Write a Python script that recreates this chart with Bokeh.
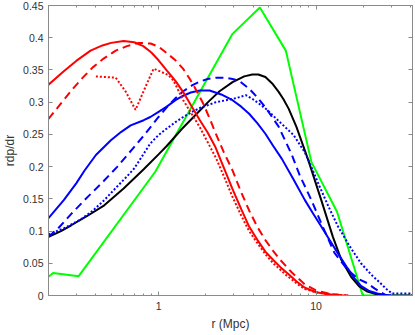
from bokeh.plotting import figure
from bokeh.models import FixedTicker, LinearAxis, LogAxis
from bokeh.embed import file_html
from bokeh.resources import INLINE

# ---- data ----
red_solid_x = [0.2, 0.25, 0.3, 0.37, 0.44, 0.5, 0.6, 0.7, 0.8, 0.9, 1.0, 1.13, 1.28, 1.43, 1.6, 1.83, 2.05, 2.3, 2.6, 2.95, 3.35, 3.76, 4.25, 4.77, 5.35, 5.94, 6.7, 7.5, 8.5, 10, 11.9, 14, 16]
red_solid_y = [0.327, 0.348, 0.364, 0.380, 0.388, 0.392, 0.395, 0.393, 0.387, 0.377, 0.365, 0.349, 0.333, 0.316, 0.296, 0.272, 0.253, 0.230, 0.198, 0.165, 0.134, 0.107, 0.086, 0.068, 0.055, 0.044, 0.033, 0.022, 0.012, 0.005, 0.002, 0.0005, 0.0]

red_dash_x = [0.2, 0.24, 0.286, 0.33, 0.382, 0.45, 0.535, 0.63, 0.75, 0.89, 1.0, 1.13, 1.28, 1.43, 1.58, 1.75, 1.92, 2.1, 2.32, 2.6, 2.95, 3.35, 3.76, 4.25, 4.77, 5.35, 5.94, 7.0, 8.5, 10, 12, 14, 16]
red_dash_y = [0.274, 0.298, 0.321, 0.338, 0.354, 0.368, 0.380, 0.387, 0.392, 0.391, 0.386, 0.376, 0.365, 0.352, 0.336, 0.317, 0.298, 0.276, 0.250, 0.222, 0.194, 0.160, 0.132, 0.106, 0.086, 0.069, 0.055, 0.036, 0.017, 0.008, 0.003, 0.001, 0.0]

red_dot_x = [0.40, 0.535, 0.62, 0.714, 0.82, 0.93, 1.04, 1.155, 1.24, 1.435, 1.63, 1.83, 2.05, 2.32, 2.6, 2.95, 3.35, 3.76, 4.25, 4.77, 5.35, 5.94, 6.5, 7.0, 7.8, 8.5, 10, 12, 14, 16]
red_dot_y = [0.340, 0.338, 0.316, 0.288, 0.322, 0.352, 0.347, 0.342, 0.334, 0.303, 0.281, 0.261, 0.238, 0.213, 0.185, 0.153, 0.124, 0.100, 0.081, 0.064, 0.050, 0.040, 0.031, 0.025, 0.016, 0.010, 0.005, 0.002, 0.001, 0.0]

blue_solid_x = [0.2, 0.25, 0.3, 0.339, 0.4, 0.498, 0.58, 0.665, 0.805, 0.887, 1.0, 1.127, 1.28, 1.435, 1.6, 1.83, 2.11, 2.5, 2.95, 3.35, 3.76, 4.25, 4.77, 5.35, 6.07, 7.2, 8.5, 9.6, 10.8, 12.2, 13.8, 15.9, 17.5, 19.3, 21.8, 24.5, 27, 30]
blue_solid_y = [0.120, 0.148, 0.174, 0.194, 0.218, 0.241, 0.254, 0.264, 0.272, 0.277, 0.285, 0.293, 0.303, 0.310, 0.315, 0.318, 0.318, 0.312, 0.303, 0.293, 0.282, 0.267, 0.251, 0.232, 0.212, 0.180, 0.148, 0.127, 0.107, 0.086, 0.065, 0.042, 0.027, 0.015, 0.007, 0.003, 0.001, 0.0]

blue_dash_x = [0.2, 0.23, 0.28, 0.355, 0.45, 0.548, 0.697, 0.805, 0.887, 1.0, 1.127, 1.28, 1.435, 1.63, 1.83, 2.05, 2.32, 2.62, 2.95, 3.25, 3.76, 4.25, 4.77, 5.79, 7.0, 7.9, 9.35, 10.8, 13.1, 15.9, 18.5, 21.2, 23.5, 25.7, 28]
blue_dash_y = [0.091, 0.104, 0.127, 0.153, 0.178, 0.200, 0.230, 0.248, 0.261, 0.277, 0.292, 0.306, 0.317, 0.326, 0.332, 0.336, 0.338, 0.338, 0.336, 0.333, 0.321, 0.307, 0.292, 0.262, 0.219, 0.186, 0.148, 0.112, 0.066, 0.040, 0.026, 0.019, 0.011, 0.005, 0.0]

blue_dot_x = [0.2, 0.25, 0.32, 0.38, 0.452, 0.55, 0.62, 0.70, 0.887, 1.0, 1.127, 1.28, 1.435, 1.63, 1.83, 2.32, 2.95, 3.3, 3.58, 3.95, 4.33, 4.9, 5.5, 6.2, 7.2, 8.5, 9.1, 10.5, 12, 13.8, 16.5, 19.3, 22.5, 25.7, 28, 30.5, 41]
blue_dot_y = [0.095, 0.104, 0.118, 0.131, 0.148, 0.170, 0.183, 0.197, 0.236, 0.249, 0.259, 0.269, 0.277, 0.285, 0.291, 0.300, 0.305, 0.308, 0.311, 0.305, 0.298, 0.288, 0.276, 0.264, 0.249, 0.222, 0.206, 0.170, 0.138, 0.107, 0.075, 0.050, 0.032, 0.019, 0.010, 0.003, 0.003]

black_x = [0.2, 0.24, 0.279, 0.35, 0.452, 0.6, 0.805, 1.0, 1.127, 1.4, 1.83, 2.1, 2.44, 2.95, 3.5, 3.94, 4.3, 4.77, 5.27, 5.79, 6.2, 6.7, 7.5, 8.93, 10.8, 12.8, 14.5, 16.7, 18.8, 21.2, 25.7, 41]
black_y = [0.091, 0.100, 0.109, 0.123, 0.140, 0.166, 0.196, 0.219, 0.232, 0.258, 0.287, 0.302, 0.317, 0.331, 0.340, 0.343, 0.343, 0.339, 0.329, 0.316, 0.305, 0.290, 0.262, 0.210, 0.148, 0.091, 0.055, 0.029, 0.014, 0.006, 0.0, 0.0]

green_x = [0.2, 0.214, 0.311, 0.953, 2.95, 4.4, 6.43, 9.35, 13.6, 19.8, 41]
green_y = [0.029, 0.035, 0.030, 0.192, 0.406, 0.447, 0.380, 0.207, 0.130, 0.0, 0.0]

x_major_ticks = [1, 10]
x_major_labels = ["1", "10"]
x_minor_ticks = [0.2, 0.3, 0.4, 0.5, 0.6, 0.7, 0.8, 0.9, 2, 3, 4, 5, 6, 7, 8, 9, 20, 30, 40]
y_ticks = [0, 0.05, 0.1, 0.15, 0.2, 0.25, 0.3, 0.35, 0.4, 0.45]
y_labels = ["0", "0.05", "0.1", "0.15", "0.2", "0.25", "0.3", "0.35", "0.4", "0.45"]

FONT = "Liberation Sans"
AXIS_COLOR = "#8a8a8a"
TEXT_COLOR = "#333333"

p = figure(width=414, height=333, x_axis_type="log", x_range=(0.2, 41), y_range=(0, 0.45),
           output_backend="svg", toolbar_location=None,
           min_border_left=43, min_border_right=2, min_border_top=5, min_border_bottom=37,
           x_axis_label="r (Mpc)", y_axis_label="rdp/dr")
p.xgrid.visible = False
p.ygrid.visible = False
p.outline_line_color = AXIS_COLOR
p.background_fill_color = "white"
p.border_fill_color = "white"

xt = FixedTicker(ticks=x_major_ticks, minor_ticks=x_minor_ticks)
yt = FixedTicker(ticks=y_ticks)


def style(ax, labels=True):
    ax.axis_line_color = AXIS_COLOR
    ax.major_tick_line_color = AXIS_COLOR
    ax.minor_tick_line_color = AXIS_COLOR
    ax.major_tick_in = 4
    ax.major_tick_out = 0
    ax.minor_tick_in = 2
    ax.minor_tick_out = 0
    ax.major_label_text_font = FONT
    ax.axis_label_text_font = FONT
    ax.axis_label_text_color = TEXT_COLOR
    ax.axis_label_text_font_size = "12px"
    ax.axis_label_text_font_style = "normal"
    if labels:
        ax.major_label_text_color = TEXT_COLOR
        ax.major_label_text_font_size = "10.5px"
        ax.major_label_standoff = 5
    else:
        ax.major_label_text_color = None
        ax.major_label_text_font_size = "1px"
        ax.major_label_standoff = 0


xa = p.xaxis[0]
xa.ticker = xt
xa.major_label_overrides = dict(zip(x_major_ticks, x_major_labels))
style(xa)
xa.major_label_standoff = 6
xa.axis_label_standoff = 4

ya = p.yaxis[0]
ya.ticker = yt
ya.major_label_overrides = dict(zip(y_ticks, y_labels))
style(ya)
ya.axis_label_standoff = 3

top = LogAxis(ticker=xt)
style(top, labels=False)
p.add_layout(top, "above")
right = LinearAxis(ticker=yt)
style(right, labels=False)
p.add_layout(right, "right")

W = 2
p.line(green_x, green_y, line_color="#00ff00", line_width=W)
p.line(black_x, black_y, line_color="black", line_width=W)
p.line(blue_solid_x, blue_solid_y, line_color="#0000ff", line_width=W)
p.line(blue_dash_x, blue_dash_y, line_color="#0000ff", line_width=W, line_dash="8 5")
p.line(blue_dot_x, blue_dot_y, line_color="#0000ff", line_width=W, line_dash="2 2")
p.line(red_dash_x, red_dash_y, line_color="#ff0000", line_width=W, line_dash="8 5")
p.line(red_dot_x, red_dot_y, line_color="#ff0000", line_width=W, line_dash="2 2")
p.line(red_solid_x, red_solid_y, line_color="#ff0000", line_width=W)

open("out.html", "w").write(file_html(p, INLINE))
